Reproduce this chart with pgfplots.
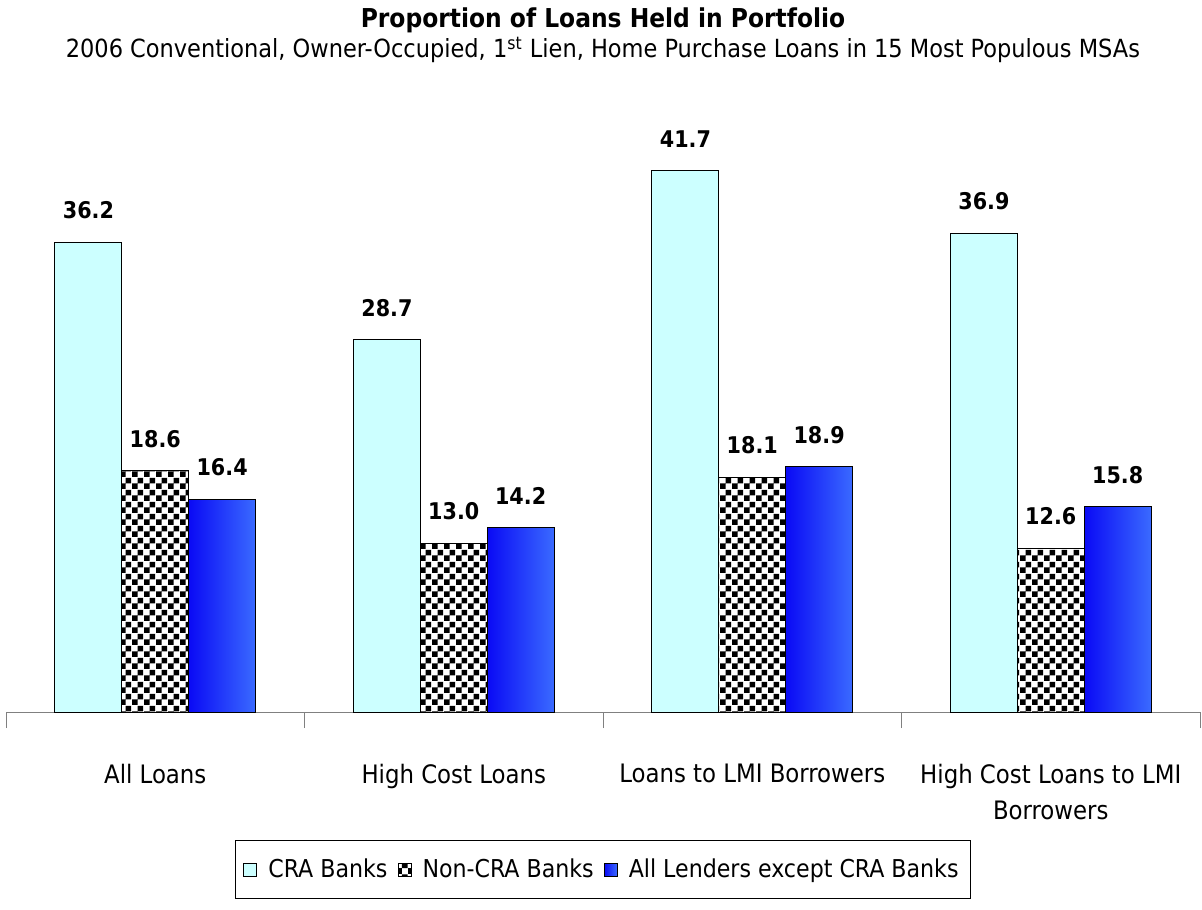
\documentclass[border=0pt]{standalone}
\usepackage{pgfplots}
\pgfplotsset{compat=1.18}
\usepackage{fontspec}
\setmainfont{DejaVu Sans Condensed}
\usetikzlibrary{patterns}
\pgfdeclarepatternformonly{bigchecker}{\pgfpointorigin}{\pgfqpoint{6pt}{6pt}}{\pgfqpoint{6pt}{6pt}}{%
  \pgfpathrectangle{\pgfpointorigin}{\pgfqpoint{3pt}{3pt}}%
  \pgfpathrectangle{\pgfqpoint{3pt}{3pt}}{\pgfqpoint{3pt}{3pt}}%
  \pgfusepath{fill}}
\definecolor{cra}{HTML}{CCFFFF}
\definecolor{bluedark}{HTML}{0A0AF5}
\definecolor{bluelight}{HTML}{3A6AFF}
\definecolor{axgray}{HTML}{808080}
\begin{document}
\begin{tikzpicture}
\begin{axis}[
  scale only axis,
  width=597pt, height=292pt,
  xmin=-0.5, xmax=3.5, ymin=0, ymax=45,
  axis x line=bottom, axis y line=none,
  x axis line style={-, draw=axgray},
  xtick={-0.5,0.5,1.5,2.5,3.5},
  xticklabels={All Loans, High Cost Loans, Loans to LMI Borrowers, {High Cost Loans to LMI\\Borrowers}},
  x tick label as interval,
  tick align=outside, major tick length=8pt,
  xtick style={draw=axgray},
  x tick label style={align=center, font=\fontsize{12.7}{18}\selectfont, yshift=-14.5pt},
  ybar=0pt, bar width=0.224,
  every axis plot/.append style={line width=0.5pt},
  nodes near coords,
  nodes near coords style={font=\fontsize{11.5}{14}\selectfont\bfseries, /pgf/number format/assume math mode=true, /pgf/number format/fixed, /pgf/number format/precision=1, /pgf/number format/fixed zerofill, yshift=8pt},
  title={{\fontsize{13}{16}\selectfont\bfseries Proportion of Loans Held in Portfolio}\\[1pt]{\fontsize{12.5}{14}\selectfont 2006 Conventional, Owner-Occupied, 1\textsuperscript{st} Lien, Home Purchase Loans in 15 Most Populous MSAs}},
  title style={align=center, at={(0.5,1)}, anchor=south, yshift=23pt},
  legend style={at={(0.5,-0.27)}, anchor=center, legend columns=-1, draw=black, font=\fontsize{12.3}{14}\selectfont, inner xsep=4pt, inner ysep=7pt, /tikz/every odd column/.append style={column sep=3.5pt}, /tikz/every even column/.append style={column sep=3pt}},
  legend image code/.code={\draw[#1, draw=black, line width=0.5pt] (0pt,-3.25pt) rectangle (6.5pt,3.25pt);},
  clip=false,
]
\addplot[draw=black, fill=cra, bar shift=-0.224] coordinates {(0,36.2) (1,28.7) (2,41.7) (3,36.9)};
\addplot[draw=black, pattern=bigchecker, pattern color=black, bar shift=0] coordinates {(0,18.6) (1,13.0) (2,18.1) (3,12.6)};
\addplot[draw=black, left color=bluedark, right color=bluelight, bar shift=0.224] coordinates {(0,16.4)};
\addplot[draw=black, left color=bluedark, right color=bluelight, bar shift=0.224, forget plot] coordinates {(1,14.2)};
\addplot[draw=black, left color=bluedark, right color=bluelight, bar shift=0.224, forget plot] coordinates {(2,18.9)};
\addplot[draw=black, left color=bluedark, right color=bluelight, bar shift=0.224, forget plot] coordinates {(3,15.8)};
\legend{CRA Banks, Non-CRA Banks, All Lenders except CRA Banks}
\path ([xshift=-3pt,yshift=-98.5pt]rel axis cs:0,0) rectangle ([xshift=1pt,yshift=64pt]rel axis cs:1,1);
\end{axis}
\end{tikzpicture}
\end{document}
